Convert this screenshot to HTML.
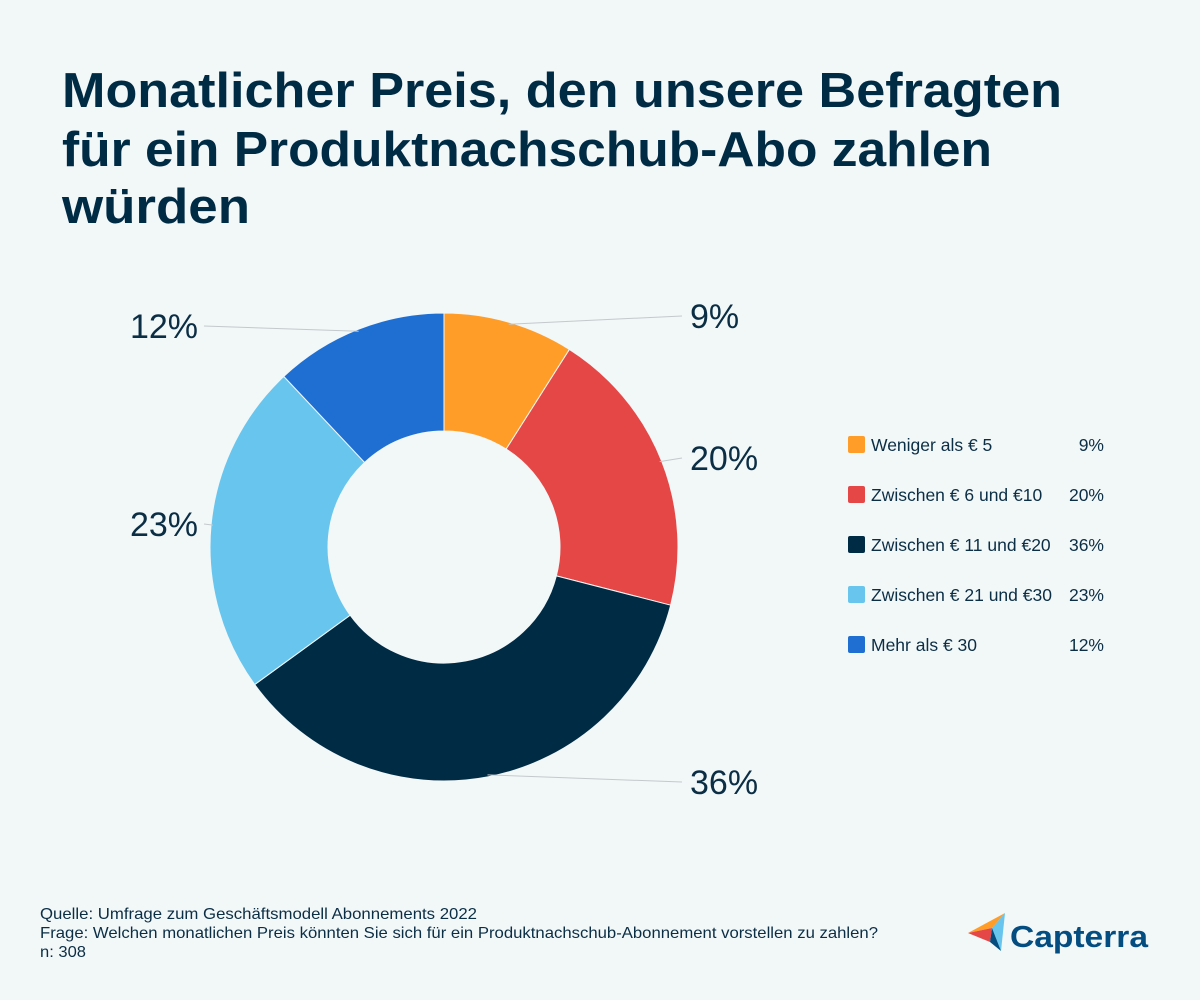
<!DOCTYPE html>
<html><head><meta charset="utf-8"><style>
html,body{margin:0;padding:0;background:#f2f7f8;}
svg{display:block;font-family:"Liberation Sans",sans-serif;}
</style></head><body>
<svg id="chart" width="1200" height="1000" viewBox="0 0 1200 1000">
<rect width="1200" height="1000" fill="#f2f7f8"/>
<g fill="#002b45" font-weight="bold" font-size="49">
<text x="62" y="107" textLength="1000" lengthAdjust="spacingAndGlyphs">Monatlicher Preis, den unsere Befragten</text>
<text x="62" y="166" textLength="930" lengthAdjust="spacingAndGlyphs">für ein Produktnachschub-Abo zahlen</text>
<text x="62" y="223" textLength="188" lengthAdjust="spacingAndGlyphs">würden</text>
</g>
<g id="slices"></g>
<g id="labels" fill="#0b2e45" font-size="34"></g>
<g id="legend" font-size="17.5" fill="#0b2e45"></g>
<g fill="#0b2e45" font-size="16">
<text x="40" y="919" textLength="437" lengthAdjust="spacingAndGlyphs">Quelle: Umfrage zum Geschäftsmodell Abonnements 2022</text>
<text x="40" y="938" textLength="838" lengthAdjust="spacingAndGlyphs">Frage: Welchen monatlichen Preis könnten Sie sich für ein Produktnachschub-Abonnement vorstellen zu zahlen?</text>
<text x="40" y="957" textLength="46" lengthAdjust="spacingAndGlyphs">n: 308</text>
</g>
<g>
<polygon points="968,933 1005,913 992,928" fill="#ff9d28"/>
<polygon points="968,933 992,928 990,942" fill="#e54747"/>
<polygon points="1005,913 992,928 1001,951" fill="#68c5ed"/>
<polygon points="992,928 990,942 1001,951" fill="#044d80"/>
<text x="1010" y="947" font-size="31" fill="#044d80" font-weight="bold" textLength="138" lengthAdjust="spacingAndGlyphs">Capterra</text>
</g>
</svg>
<script>
const categories=["Weniger als € 5","Zwischen € 6 und €10","Zwischen € 11 und €20","Zwischen € 21 und €30","Mehr als € 30"];
const values=[9,20,36,23,12];
const valueLabels=["9%","20%","36%","23%","12%"];
const colors=["#ff9d28","#e54747","#002b45","#68c5ed","#1f6fd3"];
const NS="http://www.w3.org/2000/svg";
const cx=444,cy=547,R=234,r=116;
const total=values.reduce((a,b)=>a+b,0);
function pt(a,rad){return [cx+rad*Math.sin(a),cy-rad*Math.cos(a)];}
const sg=document.getElementById('slices'),lg=document.getElementById('labels'),leg=document.getElementById('legend');
let acc=0;
const labelPos=[[690,316,'start'],[690,458,'start'],[690,782,'start'],[198,524,'end'],[198,326,'end']];
values.forEach((v,i)=>{
 const a0=acc/total*2*Math.PI;acc+=v;const a1=acc/total*2*Math.PI;
 const large=(a1-a0)>Math.PI?1:0;
 const p0=pt(a0,R),p1=pt(a1,R),q1=pt(a1,r),q0=pt(a0,r);
 const p=document.createElementNS(NS,'path');
 p.setAttribute('d',`M${p0[0]},${p0[1]}A${R},${R} 0 ${large} 1 ${p1[0]},${p1[1]}L${q1[0]},${q1[1]}A${r},${r} 0 ${large} 0 ${q0[0]},${q0[1]}Z`);
 p.setAttribute('fill',colors[i]);p.setAttribute('stroke','#f2f7f8');p.setAttribute('stroke-width','1');
 
 
 sg.appendChild(p);
 const am=(a0+a1)/2;const e=pt(am,R-2);
 const lp=labelPos[i];
 const ln=document.createElementNS(NS,'line');
 const lx=lp[2]=='start'?lp[0]-8:lp[0]+6;
 ln.setAttribute('x1',e[0]);ln.setAttribute('y1',e[1]);ln.setAttribute('x2',lx);ln.setAttribute('y2',lp[1]);
 ln.setAttribute('stroke','#c4c9cc');ln.setAttribute('stroke-width','1');
 
 
 lg.appendChild(ln);
 const t=document.createElementNS(NS,'text');
 t.setAttribute('x',lp[0]);t.setAttribute('y',lp[1]+12);t.setAttribute('text-anchor',lp[2]);
 t.textContent=valueLabels[i];
 
 
 lg.appendChild(t);
 const y=445+i*50;
 const sq=document.createElementNS(NS,'rect');
 sq.setAttribute('x',848);sq.setAttribute('y',y-9);sq.setAttribute('width',17);sq.setAttribute('height',17);sq.setAttribute('rx',2);sq.setAttribute('fill',colors[i]);
 
 
 leg.appendChild(sq);
 const lt=document.createElementNS(NS,'text');
 lt.setAttribute('x',871);lt.setAttribute('y',y+6);lt.textContent=categories[i];
 
 
 leg.appendChild(lt);
 const lv=document.createElementNS(NS,'text');
 lv.setAttribute('x',1104);lv.setAttribute('y',y+6);lv.setAttribute('text-anchor','end');lv.textContent=valueLabels[i];
 
 
 leg.appendChild(lv);
});
</script>
</body></html>
